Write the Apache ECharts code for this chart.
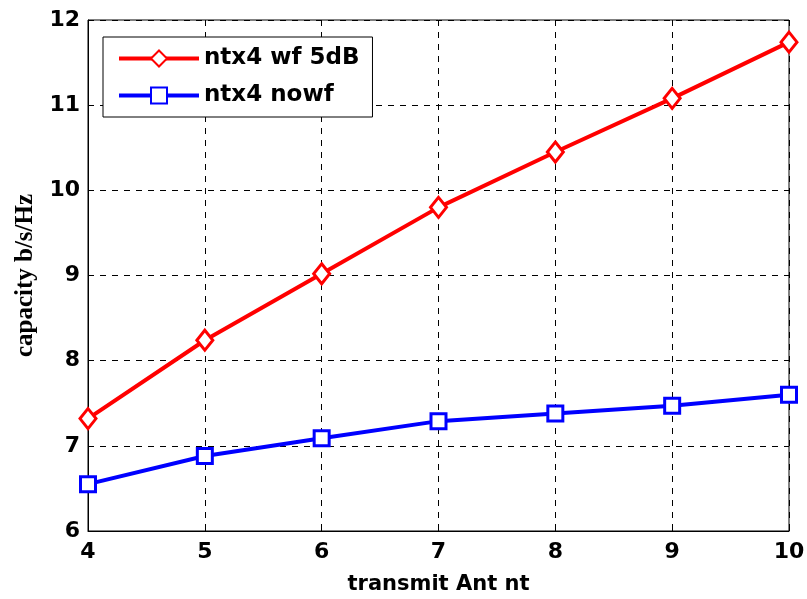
<!DOCTYPE html>
<html><head><meta charset="utf-8">
<script src="https://cdn.jsdelivr.net/npm/echarts@6/dist/echarts.min.js"></script>
<style>html,body{margin:0;padding:0;background:#fff}#c{width:807px;height:599px}</style>
</head><body><div id="c"></div>
<script>
const xTicks = [4, 5, 6, 7, 8, 9, 10];
const wfValues = [7.32, 8.24, 9.02, 9.80, 10.45, 11.08, 11.74];
const nowfValues = [6.55, 6.88, 7.09, 7.29, 7.38, 7.47, 7.60];
const seriesNames = ['ntx4 wf 5dB', 'ntx4 nowf'];

const chart = echarts.init(document.getElementById('c'));
const tickFont = {color:'#000', fontFamily:'DejaVu Sans', fontWeight:'bold', fontSize:22};
chart.setOption({
  animation:false,
  backgroundColor:'#fff',
  grid:{left:88, right:18, top:20, bottom:68, show:true, borderColor:'#000', borderWidth:1,
        containLabel:false, outerBoundsMode:'none'},
  legend:{
    left:103, top:37, orient:'vertical', backgroundColor:'#fff',
    borderColor:'#000', borderWidth:1, padding:[10,13,10,14], itemGap:14,
    itemWidth:80, itemHeight:20,
    lineStyle:{width:4},
    textStyle:{color:'#000', fontFamily:'DejaVu Sans', fontWeight:'bold', fontSize:23},
    data:seriesNames
  },
  xAxis:{
    type:'value', min:4, max:10, interval:1,
    name:'transmit Ant nt', nameLocation:'middle', nameGap:43,
    nameTextStyle:{color:'#000', fontFamily:'DejaVu Sans', fontWeight:'bold', fontSize:21},
    axisLine:{lineStyle:{color:'#000', width:1}},
    axisTick:{inside:true, length:6, lineStyle:{color:'#000'}},
    axisLabel:Object.assign({margin:10}, tickFont),
    splitLine:{show:true, lineStyle:{color:'#000', type:[6,6], width:1}}
  },
  yAxis:{
    type:'value', min:6, max:12, interval:1,
    name:'capacity b/s/Hz', nameLocation:'middle', nameGap:50,
    nameTextStyle:{color:'#000', fontFamily:'Liberation Serif', fontWeight:'bold', fontSize:25},
    axisLine:{lineStyle:{color:'#000', width:1}},
    axisTick:{inside:true, length:6, lineStyle:{color:'#000'}},
    axisLabel:Object.assign({margin:8}, tickFont),
    splitLine:{show:true, lineStyle:{color:'#000', type:[6,6], width:1}}
  },
  series:[
    {name:seriesNames[0], type:'line', data:xTicks.map((x,i)=>[x, wfValues[i]]),
     symbol:'diamond', symbolSize:[16,20], lineStyle:{color:'#ff0000', width:4},
     itemStyle:{color:'#fff', borderColor:'#ff0000', borderWidth:3}, color:'#ff0000'},
    {name:seriesNames[1], type:'line', data:xTicks.map((x,i)=>[x, nowfValues[i]]),
     symbol:'rect', symbolSize:[15,15], lineStyle:{color:'#0000ff', width:4},
     itemStyle:{color:'#fff', borderColor:'#0000ff', borderWidth:3}, color:'#0000ff'}
  ]
});
</script></body></html>
